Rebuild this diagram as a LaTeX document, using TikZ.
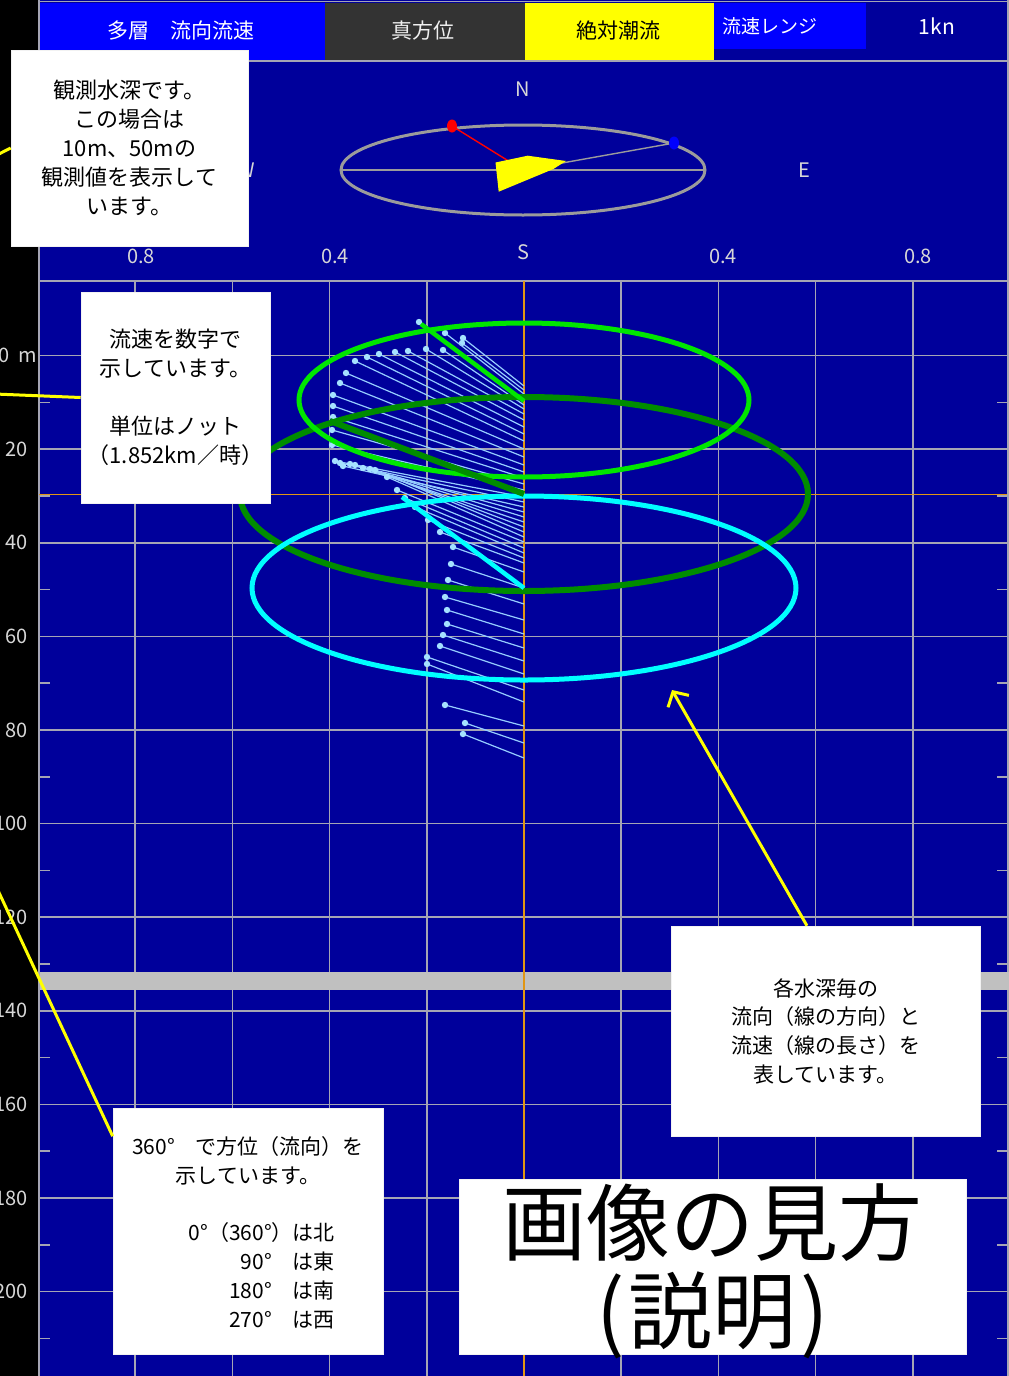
\documentclass[tikz,border=0pt]{standalone}
\usepackage{fontspec}
\setmainfont{Noto Sans CJK JP}
\usetikzlibrary{arrows.meta}
\definecolor{navy}{RGB}{0,0,155}
\definecolor{hblue}{RGB}{0,0,255}
\definecolor{hgray}{RGB}{51,51,51}
\definecolor{hyellow}{RGB}{255,255,0}
\definecolor{gridgray}{RGB}{165,165,180}
\definecolor{axorange}{RGB}{225,150,20}
\definecolor{stick}{RGB}{150,205,255}
\definecolor{stickdot}{RGB}{165,225,255}
\definecolor{brgreen}{RGB}{0,230,0}
\definecolor{dkgreen}{RGB}{0,140,0}
\definecolor{cyanc}{RGB}{0,255,255}
\definecolor{bandgray}{RGB}{192,192,192}
\definecolor{labgray}{RGB}{215,215,215}
\definecolor{compgray}{RGB}{155,155,155}
\newcommand\myfs[2]{\fontsize{#1}{#2}\selectfont}
\begin{document}
\begin{tikzpicture}[x=1pt,y=-1pt,
  gridline/.style={draw=gridgray,line width=1.6pt},
  ticks/.style={draw=gridgray,line width=1.6pt},
  depthlab/.style={text=labgray,font=\myfs{20}{24},anchor=east,inner sep=0pt},
  complab/.style={text=labgray,font=\myfs{20}{24},inner sep=0pt},
  hdr/.style={font=\myfs{21}{25},inner sep=0pt},
  callbox/.style={fill=white,draw=white!90!gray,line width=0.6pt,inner sep=0pt,align=center,font=\myfs{22}{29}},
  callout/.style={draw=hyellow,line width=3pt},
  thinstick/.style={draw=stick,line width=1.2pt},
  ring/.style={line width=5pt},
]
\useasboundingbox (0,0) rectangle (1009,1376);
% backgrounds
\fill[black] (0,0) rectangle (1009,1376);
\fill[navy] (39,0) rectangle (1009,1376);
% header cells
\fill[hblue] (40,3) rectangle (324.5,60);
\fill[hgray] (324.5,3) rectangle (524.5,60);
\fill[hyellow] (524.5,3) rectangle (714,60);
\fill[hblue] (714,3) rectangle (866,49);
\draw[gridgray,line width=1.5pt] (39,1.5) -- (1009,1.5);
\draw[gridgray,line width=2pt] (39,60.5) -- (1009,60.5);
\draw[gridgray,line width=2pt] (39,280.5) -- (1009,280.5);
\node[hdr,text=white] (h1) at (181,31) {多層　流向流速};
\node[hdr,text=white!88!gray] (h2) at (423,31) {真方位};
\node[hdr,text=black] (h3) at (618,31) {絶対潮流};
\node[hdr,text=white,font=\myfs{19}{23}] (h4) at (770,26) {流速レンジ};
\node[hdr,text=white] (h5) at (937,26) {1kn};
% compass
\node[complab] (cN) at (523,89) {N};
\node[complab] (cE) at (804,170) {E};
\node[complab] (cW) at (246,170) {W};
\node[complab] (cS) at (523,252) {S};
\node[complab] (s1) at (141,256) {0.8};
\node[complab] (s2) at (335,256) {0.4};
\node[complab] (s3) at (723,256) {0.4};
\node[complab] (s4) at (918,256) {0.8};
\draw[compgray,line width=3pt] (523,170) ellipse [x radius=182pt, y radius=45pt];
\draw[compgray,line width=2pt] (341,170) -- (705,170);
\draw[red,line width=1.4pt] (452,126) -- (523,170);
\draw[compgray,line width=1.4pt] (523,170) -- (674,143);
\fill[hyellow] (495.5,162.5) -- (498.7,191.7) -- (553.4,169) -- (566,161) -- (527.7,155.7) -- cycle;
\fill[red] (452,126) ellipse [x radius=5pt, y radius=6.5pt];
\fill[hblue] (674,143) ellipse [x radius=5pt, y radius=6.5pt];
% grid
\foreach \k in {1,2,3,4,6,7,8,9} {
  \draw[gridline] ({524+97.2*(\k-5)},281) -- ({524+97.2*(\k-5)},1376);
}
\foreach \k in {0,...,10} {
  \draw[gridline] (39,{355.5+93.6*\k}) -- (1009,{355.5+93.6*\k});
  \draw[ticks] (39,{402.3+93.6*\k}) -- (50,{402.3+93.6*\k});
  \draw[ticks] (997,{402.3+93.6*\k}) -- (1008,{402.3+93.6*\k});
}
\draw[gridgray,line width=2pt] (39,0) -- (39,1376);
\draw[gridgray,line width=2pt] (1007.5,0) -- (1007.5,1376);
\fill[bandgray] (40,972) rectangle (1009,990);
% orange axes
\draw[axorange,line width=1.6pt] (524,281) -- (524,1376);
\draw[axorange,line width=1.6pt] (39,494.5) -- (1007,494.5);
% depth labels
\node[depthlab] (d0) at (37,355.5) {0\hspace{9pt}m};
\foreach \k/\t in {1/20,2/40,3/60,4/80,5/100,6/120,7/140,8/160,9/180,10/200} {
  \node[depthlab] (d\k) at (28,{355.5+93.6*\k}) {\t};
}
% stick lines
\foreach \tx/\ty/\ay in {
 463/338/386, 462/343/390, 445/333/394, 419/322/400, 443/350/405, 426/349/409,
 408/351/414, 395/352/420, 379/354/427, 367/357/434, 355/361/441, 346/373/449,
 340/383/457, 333/395/465, 333/406/472, 333/417/478, 332/430/484, 332/445/490,
 335/461/497, 340/463/502, 343/466/507, 350/464/512, 355/465/517, 363/468/522,
 370/469/527, 375/470/532, 387/477/537, 397/490/542, 405/498/548, 415/507/553,
 428/520/558, 440/532/563, 453/547/572, 451/564/588, 448/580/604, 445/597/620,
 447/610/634, 447/624/648, 443/635/661, 440/646/674, 427/657/690, 427/664/702,
 445/705/726, 465/723/743, 463/734/758} {
  \draw[thinstick] (524,\ay) -- (\tx,\ty);
  \fill[stickdot] (\tx,\ty) circle[radius=3.2pt];
}
% rings
\draw[dkgreen,line width=6pt] (524,494) ellipse [x radius=284pt, y radius=97pt];
\draw[cyanc,ring] (524,588) ellipse [x radius=272pt, y radius=92pt];
\draw[brgreen,ring] (524,400) ellipse [x radius=225pt, y radius=77pt];
\draw[dkgreen,line width=6pt] (330,421) -- (524,494);
\draw[cyanc,line width=4.5pt] (402,497) -- (524,588);
\draw[brgreen,line width=4.5pt] (421,324) -- (524,401);
% callout boxes
\node[callbox,minimum width=237pt,minimum height=196pt] (b1) at (129.5,148)
  {観測水深です。\\この場合は\\10m、50mの\\観測値を表示して\\います。};
\node[callbox,minimum width=189pt,minimum height=211pt] (b2) at (175.5,397.5)
  {流速を数字で\\示しています。\\[29pt]単位はノット\\（1.852km／時）};
\node[callbox,minimum width=309pt,minimum height=210pt,font=\myfs{21}{28.7}] (b3) at (825.5,1031)
  {各水深毎の\\流向（線の方向）と\\流速（線の長さ）を\\表しています。};
\node[callbox,minimum width=270pt,minimum height=246pt] (b4) at (248,1231) {};
\node[align=center,font=\myfs{21}{29},inner sep=0pt] (b4a) at (248,1160.5)
  {360°　で方位（流向）を\\示しています。};
\node[align=right,font=\myfs{21}{29},inner sep=0pt,anchor=east] (b4b) at (335,1275.5)
  {0°（360°）は北\\90°　は東\\180°　は南\\270°　は西};
\node[callbox,minimum width=507pt,minimum height=175pt] (b5) at (712.5,1266.5) {};
\node[align=center,font=\myfs{84}{88},inner sep=0pt] (b5t) at (712.5,1271)
  {画像の見方\\(\hspace{4pt}説明\hspace{4pt})};
% callout lines
\coordinate (e1) at (-5,156);
\coordinate (e2) at (-5,394);
\coordinate (e4) at (-5,884);
\coordinate (a3) at (672,690);
\draw[callout] (b1.west) -- (e1);
\draw[callout] (b2.west) -- (e2);
\draw[callout] (b4.145) -- (e4);
\draw[callout,-{Straight Barb[length=11pt,width=24pt,line width=3pt]}] (b3.100.5) -- (a3);
\end{tikzpicture}
\end{document}
